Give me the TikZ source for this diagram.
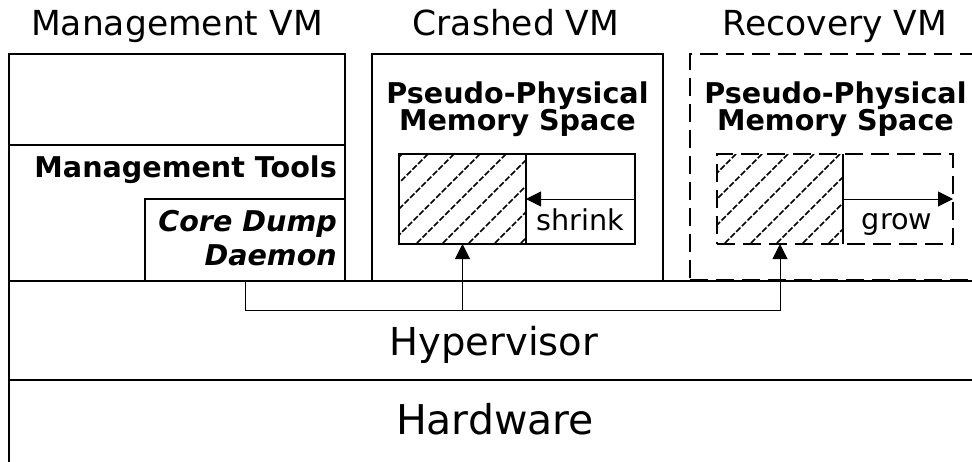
\documentclass[tikz,border=0pt]{standalone}
\usepackage{fontspec}
\setmainfont{DejaVu Sans}
\usetikzlibrary{arrows.meta}
\begin{document}
\begin{tikzpicture}[x=1pt,y=-1pt,
  frame/.style={draw, line width=2pt, inner sep=0pt, outer sep=0pt, anchor=north west},
  ghost/.style={frame, dash pattern=on 18pt off 8pt},
  title/.style={font=\fontsize{34.5}{40}\selectfont, anchor=base, inner sep=0pt},
  layer/.style={anchor=base, inner sep=0pt},
  heading/.style={font=\fontsize{28.6}{27.7}\selectfont\bfseries, inner sep=0pt},
  small/.style={font=\fontsize{28.7}{30}\selectfont, anchor=base, inner sep=0pt},
  link/.style={line width=1pt},
  tip/.style={-{Triangle[length=15pt,width=15pt]}},
  hatch/.style={line width=1.6pt, dash pattern=on 6pt off 2pt}
]
\useasboundingbox (0,0) rectangle (972,461);
\clip (0,0) rectangle (972,461);

% lower layers
\node[frame, minimum width=980pt, minimum height=99pt] (hyp) at (9,281) {};
\node[frame, minimum width=980pt, minimum height=110pt] (hw) at (9,380) {};
\node[layer, font=\fontsize{38.5}{44}\selectfont] (hyptext) at (494,355) {Hypervisor};
\node[layer, font=\fontsize{41}{46}\selectfont] (hwtext) at (495,434) {Hardware};

% management VM
\node[frame, minimum width=336pt, minimum height=227pt] (mgmt) at (9,54) {};
\node[frame, minimum width=336pt, minimum height=136pt] (tools) at (9,145) {};
\node[frame, minimum width=200pt, minimum height=82pt] (daemon) at (145,199) {};
\node[heading, anchor=base east] (toolstext) at (337,177) {Management Tools};
\node[heading, anchor=base east, align=right, font=\fontsize{28.6}{34}\selectfont\bfseries\itshape] (daemontext) at (337,265) {Core Dump\\Daemon};

% crashed VM
\node[frame, minimum width=291pt, minimum height=227pt] (crashed) at (372,54) {};
\node[heading, anchor=base, align=center] (ctext) at (517.5,130.7) {Pseudo-Physical\\Memory Space};
\node[frame, minimum width=236pt, minimum height=90pt] (cmem) at (399,154) {};
\node[frame, minimum width=127pt, minimum height=90pt] (cused) at (399,154) {};
\begin{scope}
  \clip (cused.north west) rectangle (cused.south east);
  \foreach \k in {-6,...,8}{\draw[hatch] (428+26*\k,154) -- ++(-110,110);}
\end{scope}
\node[small] (shrink) at (580,230) {shrink};

% recovery VM
\node[ghost, minimum width=291pt, minimum height=226pt] (recovery) at (690,54) {};
\node[heading, anchor=base, align=center] (rtext) at (835.5,130.7) {Pseudo-Physical\\Memory Space};
\node[ghost, minimum width=236pt, minimum height=90pt] (rmem) at (717,154) {};
\node[frame, draw=none, minimum width=126pt, minimum height=90pt] (rused) at (717,154) {};
\begin{scope}
  \clip (rused.north west) rectangle (rused.south east);
  \foreach \k in {-6,...,8}{\draw[hatch] (736+26*\k,154) -- ++(-110,110);}
\end{scope}
\draw[line width=2pt] (rused.north east) -- (rused.south east);
\node[small] (grow) at (897,229) {grow};

% titles
\node[title] (mgmttitle) at (177,35) {Management VM};
\node[title] (crashedtitle) at (516,35) {Crashed VM};
\node[title] (recoverytitle) at (835,35) {Recovery VM};

% resize arrows
\draw[link, tip] (cmem.east) -- (cused.east);
\draw[link, tip] (rused.east) -- (rmem.east);

% daemon links into both memory spaces
\coordinate (busend) at (rused.south |- 0,310);
\draw[link, tip] (daemon.south) |- (busend) -- (rused.south);
\draw[link, tip] (cused.south |- busend) -- (cused.south);
\end{tikzpicture}
\end{document}
